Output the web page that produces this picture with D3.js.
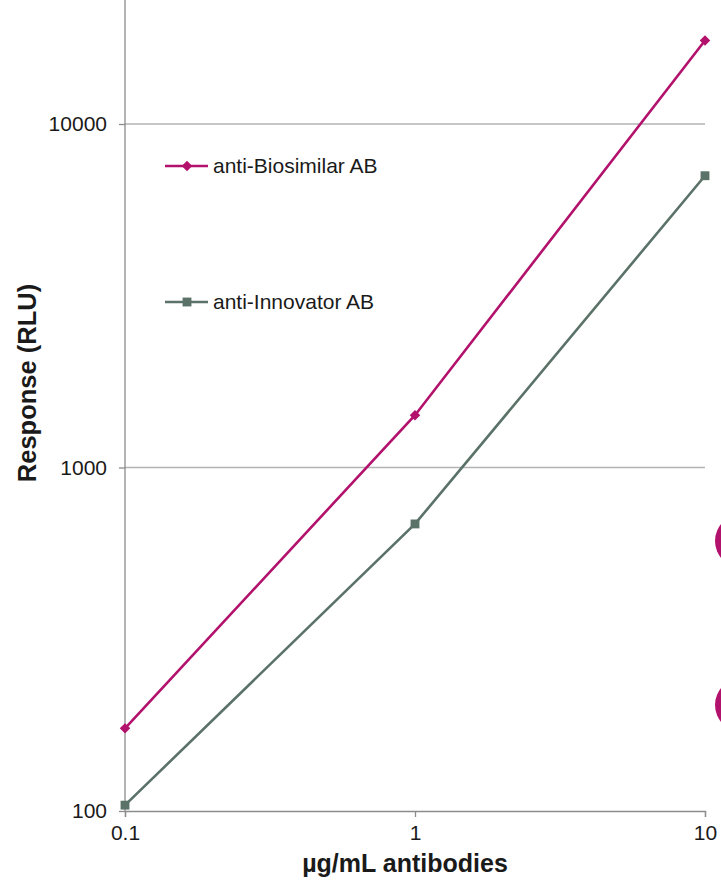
<!DOCTYPE html>
<html><head><meta charset="utf-8">
<script src="https://cdn.jsdelivr.net/npm/d3@7"></script>
<style>
html,body{margin:0;padding:0;background:#fff;}
svg{display:block;}
text{font-family:"Liberation Sans",Arial,sans-serif;fill:#1a1a1a;}
</style></head>
<body>
<script>
const concentrations = [0.1, 1, 10];
const seriesNames = ["anti-Biosimilar AB", "anti-Innovator AB"];
const biosimilarValues = [174, 1420, 17500];
const innovatorValues = [104, 685, 7070];
const xTickLabels = ["0.1", "1", "10"];
const yTickLabels = ["100", "1000", "10000"];
const yTickValues = [100, 1000, 10000];

const W = 721, H = 882;
const svg = d3.select("body").append("svg").attr("width", W).attr("height", H);

const x = d3.scaleLog().domain([0.1, 10]).range([125, 705]);
const y = d3.scaleLog().domain([100, 10000]).range([811, 124]);

// decorative circles at right edge (cropped)
svg.append("circle").attr("cx", 742).attr("cy", 541).attr("r", 27).attr("fill", "#b3126c");
svg.append("circle").attr("cx", 742).attr("cy", 705).attr("r", 27).attr("fill", "#b3126c");

// gridlines
svg.append("g").selectAll("line").data(yTickValues.slice(1)).join("line")
  .attr("x1", x(0.1)).attr("x2", x(10))
  .attr("y1", d => y(d)).attr("y2", d => y(d))
  .attr("stroke", "#b3b3b3").attr("stroke-width", 1.3);

// y axis
const yAxis = d3.axisLeft(y).tickValues(yTickValues).tickSize(6).tickPadding(12)
  .tickFormat((d, i) => yTickLabels[i]);
const gy = svg.append("g").attr("transform", `translate(${x(0.1)},0)`).call(yAxis);
gy.select(".domain").remove();
gy.append("line").attr("x1", 0).attr("x2", 0).attr("y1", y(100)).attr("y2", y(1e5))
  .attr("stroke", "#8c8c8c").attr("stroke-width", 1.3);
gy.selectAll(".tick line").attr("stroke", "#8c8c8c").attr("stroke-width", 1.3);
gy.selectAll(".tick text").style("font-size", "21px").attr("fill", "#1a1a1a");

// x axis
const xAxis = d3.axisBottom(x).tickValues(concentrations).tickSize(6).tickPadding(8)
  .tickFormat((d, i) => xTickLabels[i]);
const gx = svg.append("g").attr("transform", `translate(0,${y(100)})`).call(xAxis);
gx.select(".domain").attr("stroke", "#8c8c8c").attr("stroke-width", 1.3);
gx.selectAll(".tick line").attr("stroke", "#8c8c8c").attr("stroke-width", 1.3);
gx.selectAll(".tick text").style("font-size", "21px").attr("fill", "#1a1a1a");

// titles
svg.append("text").attr("x", 405).attr("y", 872).attr("text-anchor", "middle")
  .style("font-size", "25px").style("font-weight", "bold").text("µg/mL antibodies");
svg.append("text").attr("transform", "translate(36,383) rotate(-90)").attr("text-anchor", "middle")
  .style("font-size", "25.5px").style("font-weight", "bold").text("Response (RLU)");

const series = [
  {name: seriesNames[0], values: biosimilarValues, color: "#b3126c", shape: d3.symbolDiamond2, size: 70, ly: 166},
  {name: seriesNames[1], values: innovatorValues, color: "#5b7269", shape: d3.symbolSquare2, size: 100, ly: 302}
];

const line = d3.line().x(d => x(d[0])).y(d => y(d[1]));

series.forEach(s => {
  const pts = concentrations.map((c, i) => [c, s.values[i]]);
  svg.append("path").datum(pts).attr("d", line).attr("fill", "none")
    .attr("stroke", s.color).attr("stroke-width", 2.6);
  svg.append("g").selectAll("path").data(pts).join("path")
    .attr("transform", d => `translate(${x(d[0])},${y(d[1])})`)
    .attr("d", d3.symbol().type(s.shape).size(s.size)).attr("fill", s.color);
  // legend
  const lg = svg.append("g");
  lg.append("line").attr("x1", 165).attr("x2", 208).attr("y1", s.ly).attr("y2", s.ly)
    .attr("stroke", s.color).attr("stroke-width", 2.6);
  lg.append("path").attr("transform", `translate(187,${s.ly})`)
    .attr("d", d3.symbol().type(s.shape).size(s.size)).attr("fill", s.color);
  lg.append("text").attr("x", 213).attr("y", s.ly).attr("dy", "0.35em")
    .style("font-size", "21px").text(s.name);
});
</script>
</body></html>
